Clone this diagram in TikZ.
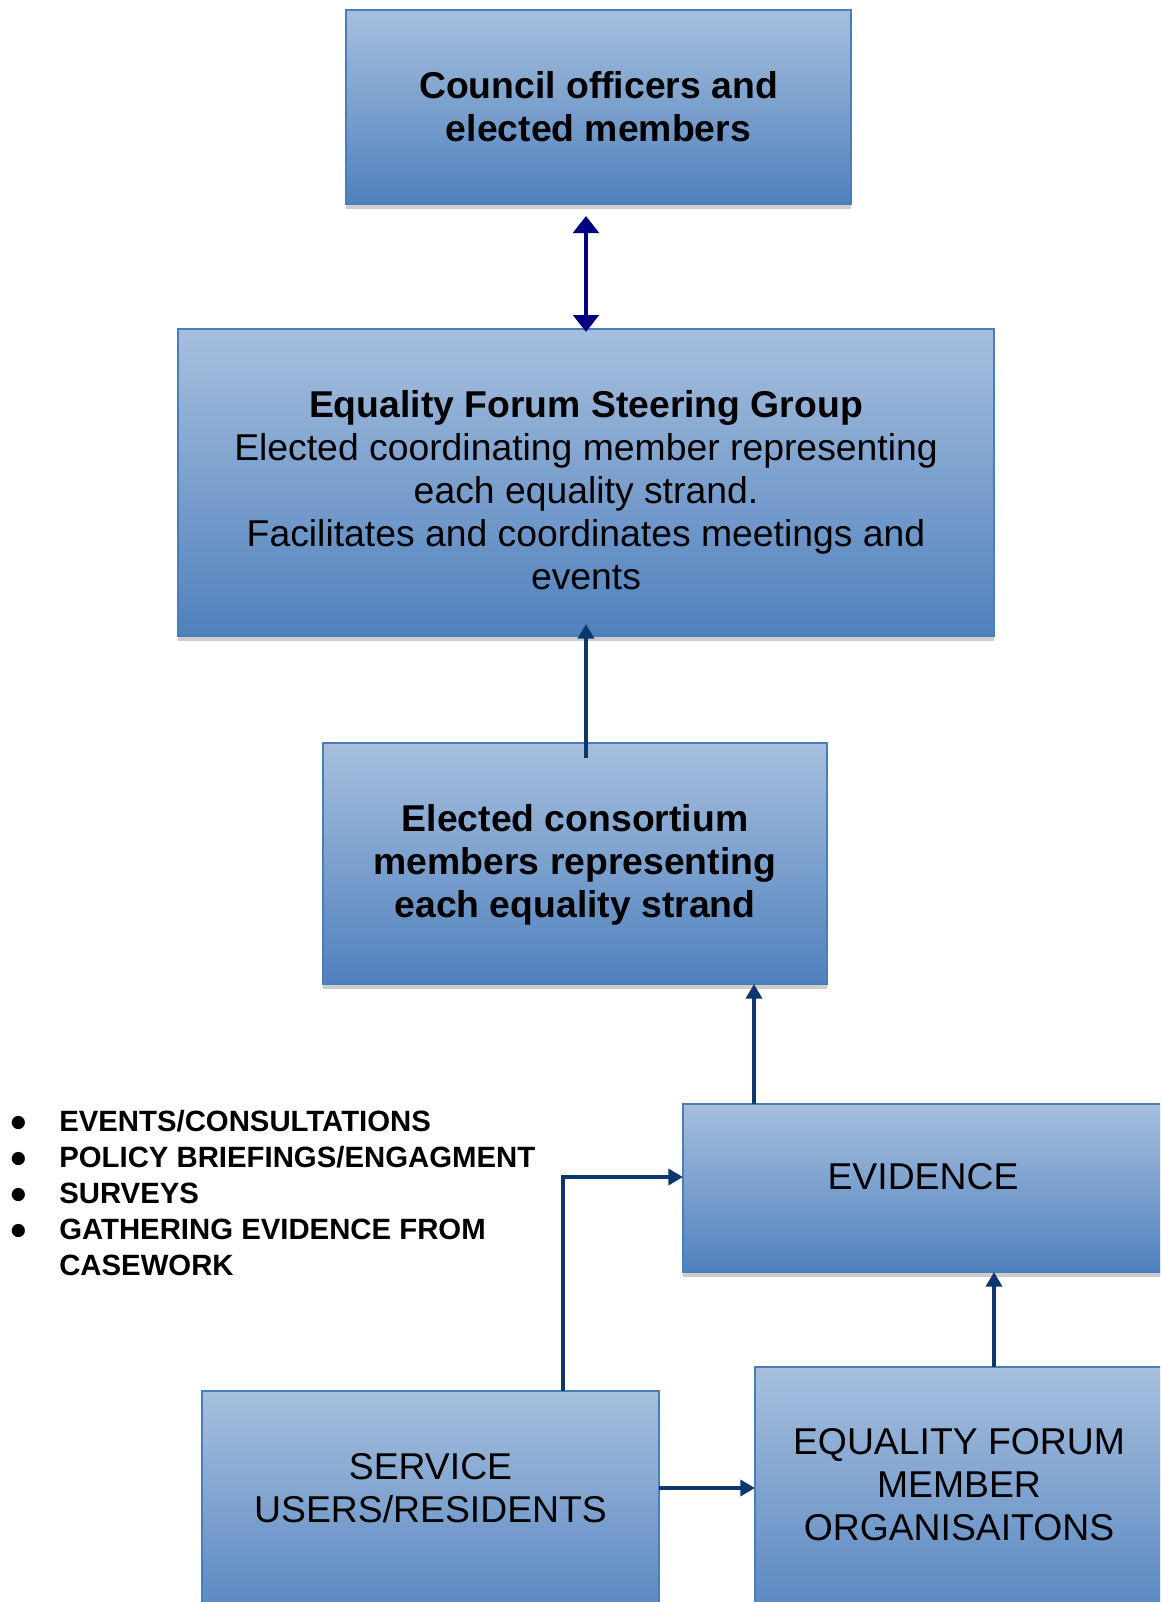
\documentclass[tikz,border=0pt]{standalone}
\usepackage{fontspec}
\setmainfont{Liberation Sans}
\newfontfamily\dejavu{DejaVu Sans}
\usetikzlibrary{arrows.meta,calc}
\definecolor{gtop}{RGB}{167,191,222}
\definecolor{gbot}{RGB}{79,129,189}
\definecolor{bord}{RGB}{74,126,187}
\definecolor{shad}{RGB}{205,205,205}
\definecolor{navyarr}{RGB}{0,0,128}
\definecolor{darr}{RGB}{12,56,108}
\begin{document}
\begin{tikzpicture}[x=0.75pt,y=-0.75pt,
 box/.style={rectangle, draw=bord, line width=1.1pt, top color=gtop, bottom color=gbot,
   inner sep=0pt, outer sep=0pt,
   preaction={fill=shad, transform canvas={yshift=-4pt}}},
 txt/.style={align=center, inner sep=0pt, font=\fontsize{28}{32.25}\selectfont},
 btxt/.style={align=center, inner sep=0pt, font=\fontsize{28}{32.25}\selectfont\bfseries},
 arr/.style={draw=darr, line width=3.1pt, -{Triangle[width=12pt,length=11pt]}},
 dbl/.style={draw=navyarr, line width=3.4pt,
   {Triangle[width=19pt,length=12.75pt]}-{Triangle[width=19pt,length=12.75pt]}}
]
\fill[white] (0,0) rectangle (1160,1602);
\clip (0,0) rectangle (1160,1602);

% boxes
\node[box, minimum width=505*0.75pt, minimum height=194*0.75pt] (b1) at (598.5,107) {};
\node[box, minimum width=816*0.75pt, minimum height=307*0.75pt] (b2) at (586,482.5) {};
\node[box, minimum width=504*0.75pt, minimum height=241*0.75pt] (b3) at (575,863.5) {};
\node[box, minimum width=497*0.75pt, minimum height=168*0.75pt] (ev) at (931.5,1188) {};
\node[box, minimum width=457*0.75pt, minimum height=249*0.75pt] (su) at (430.5,1515.5) {};
\node[box, minimum width=425*0.75pt, minimum height=273*0.75pt] (eq) at (967.5,1503.5) {};

% texts
\node[btxt] (t1) at (598.5,107) {Council officers and\\elected members};
\node[txt] (t2) at (586,490.5) {{\bfseries Equality Forum Steering Group}\\Elected coordinating member representing\\each equality strand.\\Facilitates and coordinates meetings and\\events};
\node[btxt] (t3) at (575,865) {Elected consortium\\members representing\\each equality strand};
\node[txt] (evt) at (923,1177) {EVIDENCE};
\node[txt] (sut) at (430.5,1488) {SERVICE\\USERS/RESIDENTS};
\node[txt] (eqt) at (959,1485) {EQUALITY FORUM\\MEMBER\\ORGANISAITONS};

\newcommand{\bigbul}{\raisebox{2.5pt}{\fontsize{13}{13}\dejavu ●}}
\node[anchor=west, inner sep=0pt, font=\fontsize{22}{27}\selectfont] (bul) at (10.5,1196)
 {\begin{tabular}{@{}p{36.4pt}@{}l@{}}
 \bigbul & \textbf{EVENTS/CONSULTATIONS}\\
 \bigbul & \textbf{POLICY BRIEFINGS/ENGAGMENT}\\
 \bigbul & \textbf{SURVEYS}\\
 \bigbul & \textbf{GATHERING EVIDENCE FROM}\\
  & \textbf{CASEWORK}
 \end{tabular}};

% connectors
\draw[dbl] ([yshift=-9pt]b1.south -| b2.north) -- ([yshift=-2.25pt]b2.north);
\draw[arr] ([yshift=-11.25pt]b3.north -| b2.south) -- ([yshift=9pt]b2.south);
\draw[arr] ([xshift=53.25pt]ev.north west) -- ([xshift=53.25pt]ev.north west |- b3.south);
\draw[arr] ([xshift=179.25pt]eq.north west) -- ([xshift=179.25pt]eq.north west |- ev.south);
\draw[arr] (sut -| su.east) -- (sut -| eq.west);
\draw[arr] ([xshift=270.75pt]su.north west) |- (evt -| ev.west);
\end{tikzpicture}
\end{document}
